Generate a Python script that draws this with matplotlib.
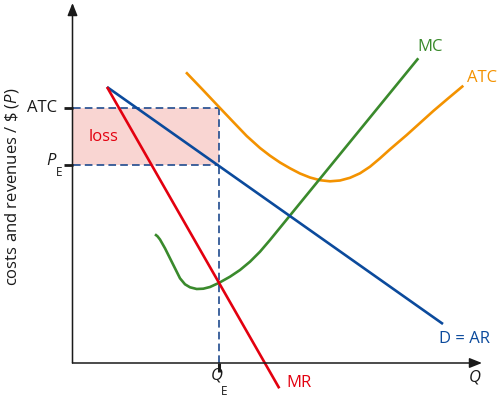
import matplotlib
matplotlib.use("Agg")
import matplotlib.pyplot as plt
from matplotlib.patches import Rectangle, FancyArrowPatch

plt.rcParams['font.family'] = ['Open Sans', 'DejaVu Sans']
plt.rcParams['lines.scale_dashes'] = False
plt.rcParams['mathtext.fontset'] = 'custom'
plt.rcParams['mathtext.rm'] = 'Open Sans'
plt.rcParams['mathtext.it'] = 'Open Sans:italic'

# ---- data (chart units: origin at the axes corner) ----
demand_q = [34.5, 370.5]
demand_p = [276, 39]

mr_q = [34.5, 206.8]
mr_p = [276, -25.3]

mc_q = [82.5, 85.0, 87.5, 92.5, 97.5, 102.5, 107.5, 112.5, 117.5, 124.2, 130.8,
        137.5, 146.8, 157.5, 167.5, 177.5, 187.5, 197.5, 244.8, 294.2, 345.8]
mc_p = [128.7, 126.7, 123.5, 114.7, 104.7, 94.7, 84.7, 78.7, 75.7, 74, 74.3,
        76, 80.3, 86.3, 93, 101.3, 111.3, 123, 181, 241.5, 304.7]

atc_q = [113.5, 130, 146.8, 160.5, 174.2, 187.5, 197.5, 207.5, 217.5, 227.5,
         237.5, 247.5, 257.5, 267.5, 277.5, 287.5, 297.5, 307.5, 317.5, 334.2,
         347.5, 360.8, 375.5, 390.8]
atc_p = [290.7, 273.5, 255.7, 241.3, 227, 215, 207.3, 200.5, 194.7, 189.5,
         185.5, 182.8, 181.7, 182.5, 185.2, 189.7, 196.3, 204.7, 213.7, 228,
         240, 252, 264.5, 277.3]

q_e = 146.8
p_e = 198
atc_level = 255.5

# ---- colours ----
GREEN = '#3a8a2c'
ORANGE = '#f39200'
BLUE = '#0b4a9c'
RED = '#e3000f'
FILL = '#f9d5d2'
DASH = '#1f4a8e'
INK = '#1a1a1a'

fig = plt.figure(figsize=(5.01, 3.98), dpi=100)
ax = fig.add_axes([0, 0, 1, 1])
ax.set_xlim(-72.5, 428.5)
ax.set_ylim(-35, 363)
ax.axis('off')

# loss area
ax.add_patch(Rectangle((0, p_e), q_e, atc_level - p_e, facecolor=FILL,
                       edgecolor='none', zorder=1))
dash = (0, (5.5, 3))
ax.plot([0, q_e], [atc_level, atc_level], color=DASH, lw=1.2, ls=dash, zorder=2)
ax.plot([0, q_e], [p_e, p_e], color=DASH, lw=1.2, ls=dash, zorder=2)
ax.plot([q_e, q_e], [0, atc_level], color=DASH, lw=1.2, ls=dash, zorder=2)

# curves
lw = 1.9
ax.plot(atc_q, atc_p, color=ORANGE, lw=lw, solid_capstyle='butt', solid_joinstyle='round', zorder=3)
ax.plot(mc_q, mc_p, color=GREEN, lw=lw, solid_capstyle='butt', solid_joinstyle='round', zorder=4)
ax.plot(demand_q, demand_p, color=BLUE, lw=lw, solid_capstyle='butt', zorder=5)
ax.plot(mr_q, mr_p, color=RED, lw=lw, solid_capstyle='butt', zorder=6)

# axes with arrows
for start, end in [((0, 0), (0, 360)), ((0, 0), (409.5, 0))]:
    ax.add_patch(FancyArrowPatch(start, end, arrowstyle='-|>,head_length=0.75,head_width=0.3',
                                 mutation_scale=10, color=INK, lw=1.1,
                                 shrinkA=0, shrinkB=0, zorder=7))

# ticks
ax.plot([-8.5, 0], [atc_level, atc_level], color=INK, lw=2, solid_capstyle='butt', zorder=7)
ax.plot([-8.5, 0], [p_e, p_e], color=INK, lw=2, solid_capstyle='butt', zorder=7)
ax.plot([q_e, q_e], [0, -8.7], color=INK, lw=2.2, solid_capstyle='butt', zorder=7)

fs = 12
# labels
ax.text(357.5, 316, 'MC', color=GREEN, fontsize=fs, ha='center', va='center')
ax.text(409.5, 285, 'ATC', color=ORANGE, fontsize=fs, ha='center', va='center')
ax.text(392.5, 24, 'D = AR', color=BLUE, fontsize=fs, ha='center', va='center')
ax.text(226.5, -20, 'MR', color=RED, fontsize=fs, ha='center', va='center')
ax.text(31.5, 226, 'loss', color=RED, fontsize=fs, ha='center', va='center')
ax.text(402.5, -15, 'Q', color=INK, fontsize=fs, style='italic', ha='center', va='center')
ax.text(144.2, -12, 'Q', color=INK, fontsize=fs, style='italic', ha='center', va='center')
ax.text(151.5, -28.7, 'E', color=INK, fontsize=8.5, ha='center', va='center')
ax.text(-15.5, 255.5, 'ATC', color=INK, fontsize=fs, ha='right', va='center')
ax.text(-21.5, 202, 'P', color=INK, fontsize=fs, style='italic', ha='center', va='center')
ax.text(-13.5, 190, 'E', color=INK, fontsize=8.5, ha='center', va='center')
ax.text(-60.5, 176, r'costs and revenues / \$ ($P$)', color=INK, fontsize=fs,
        rotation=90, ha='center', va='center')

fig.savefig('out.png', dpi=100)
